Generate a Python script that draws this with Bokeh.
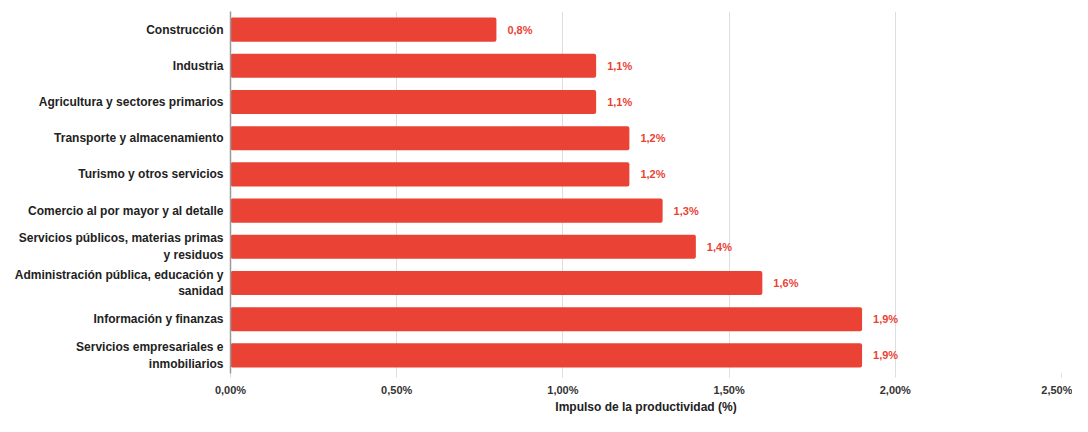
from bokeh.plotting import figure
from bokeh.models import ColumnDataSource, FactorRange, FixedTicker, Range1d
from bokeh.core.properties import value
from bokeh.embed import file_html
from bokeh.resources import INLINE

sectors = [
    "Construcción",
    "Industria",
    "Agricultura y sectores primarios",
    "Transporte y almacenamiento",
    "Turismo y otros servicios",
    "Comercio al por mayor y al detalle",
    "Servicios públicos, materias primas\ny residuos",
    "Administración pública, educación y\nsanidad",
    "Información y finanzas",
    "Servicios empresariales e\ninmobiliarios",
]
impulse = [0.8, 1.1, 1.1, 1.2, 1.2, 1.3, 1.4, 1.6, 1.9, 1.9]
tick_values = [0.0, 0.5, 1.0, 1.5, 2.0, 2.5]
tick_labels = ["0,00%", "0,50%", "1,00%", "1,50%", "2,00%", "2,50%"]
x_title = "Impulso de la productividad (%)"

RED = "#ea4335"
FONT = "Liberation Sans"

labels = [f"{v:.1f}%".replace(".", ",") for v in impulse]
src = ColumnDataSource(dict(sector=sectors, val=impulse, lab=labels))

p = figure(
    width=1072, height=416,
    y_range=FactorRange(factors=list(reversed(sectors)), range_padding=0.0),
    x_range=Range1d(0, 2.5),
    output_backend="svg", toolbar_location=None,
    min_border_left=230, min_border_right=11, min_border_top=11, min_border_bottom=0,
)
p.outline_line_color = None
p.border_fill_color = "white"
p.background_fill_color = "white"

p.hbar(y="sector", right="val", left=0, height=0.665, source=src,
       fill_color=RED, line_color=None, border_radius=2)

p.text(x="val", y="sector", text="lab", source=src, x_offset=11,
       text_baseline="middle", text_align="left", text_color=RED,
       text_font=value(FONT), text_font_style="bold", text_font_size="11px")

# x axis
p.xaxis.ticker = FixedTicker(ticks=tick_values)
p.xaxis.major_label_overrides = {t: l for t, l in zip(tick_values, tick_labels)}
p.xaxis.axis_line_color = None
p.xaxis.major_tick_in = 0
p.xaxis.major_tick_out = 4
p.xaxis.major_tick_line_color = "#dcdcdc"
p.xaxis.minor_tick_line_color = None
p.xaxis.major_label_standoff = 6
p.xaxis.major_label_text_font = FONT
p.xaxis.major_label_text_font_style = "bold"
p.xaxis.major_label_text_font_size = "11px"
p.xaxis.major_label_text_color = "#333333"
p.xaxis.axis_label = x_title
p.xaxis.axis_label_standoff = 1
p.xaxis.axis_label_text_font = FONT
p.xaxis.axis_label_text_font_style = "bold"
p.xaxis.axis_label_text_font_size = "12px"
p.xaxis.axis_label_text_color = "#222222"

# y axis
p.yaxis.axis_line_color = "#9a9a9a"
p.yaxis.axis_line_width = 1.5
p.yaxis.major_tick_line_color = None
p.yaxis.minor_tick_line_color = None
p.yaxis.major_label_standoff = 1
p.yaxis.major_label_text_font = FONT
p.yaxis.major_label_text_font_style = "bold"
p.yaxis.major_label_text_font_size = "12px"
p.yaxis.major_label_text_color = "#222222"

p.ygrid.grid_line_color = None
p.xgrid.grid_line_color = "#dedede"
p.xgrid.grid_line_width = 1

open("out.html", "w").write(file_html(p, INLINE))
